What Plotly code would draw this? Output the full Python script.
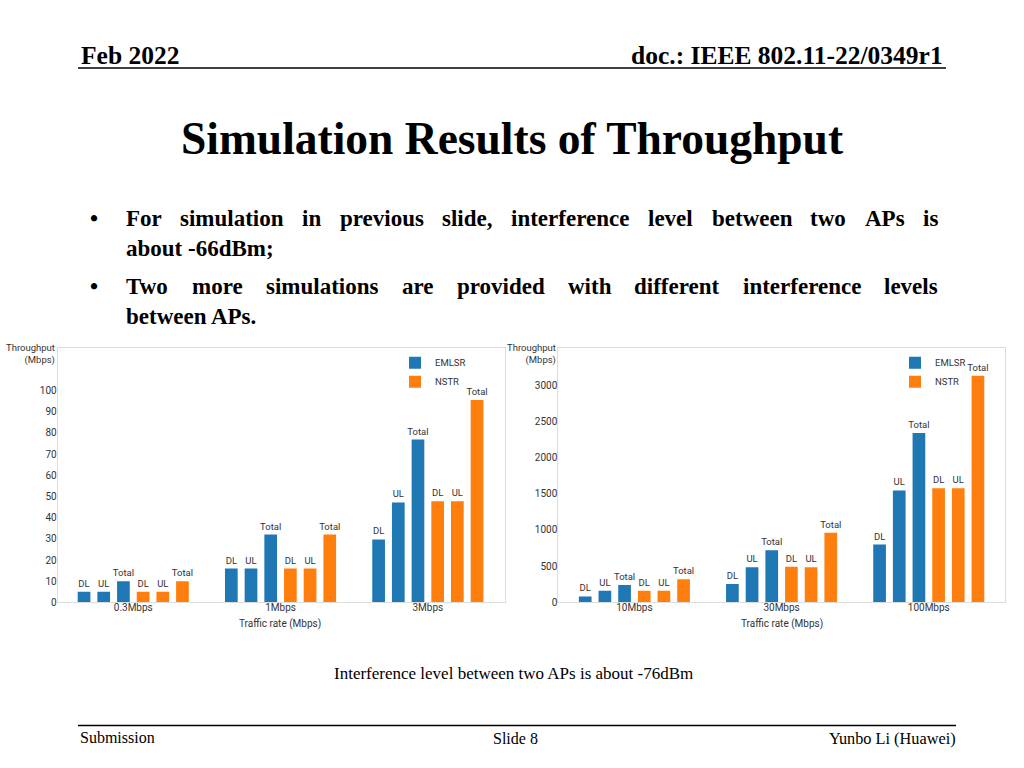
import plotly.graph_objects as go

W, H = 1024, 768
HE = 761.5  # effective rendered height used for vertical placement

# ---------------- data ----------------
cats_left = ["0.3Mbps", "1Mbps", "3Mbps"]
emlsr_dl_left = [5, 16, 29.7]
emlsr_ul_left = [5, 16, 47.2]
emlsr_total_left = [10, 32, 76.9]
nstr_dl_left = [5, 16, 47.8]
nstr_ul_left = [5, 16, 47.8]
nstr_total_left = [10, 32, 95.6]

cats_right = ["10Mbps", "30Mbps", "100Mbps"]
emlsr_dl_right = [83, 255, 799]
emlsr_ul_right = [162, 485, 1547]
emlsr_total_right = [241, 720, 2340]
nstr_dl_right = [160, 494, 1575]
nstr_ul_right = [160, 485, 1575]
nstr_total_right = [318, 961, 3130]

left_yticks = [0, 10, 20, 30, 40, 50, 60, 70, 80, 90, 100]
right_yticks = [0, 500, 1000, 1500, 2000, 2500, 3000]
bar_labels = ["DL", "UL", "Total"]
series_names = ["EMLSR", "NSTR"]

# ---------------- styles ----------------
BLUE = "#1f77b4"
ORANGE = "#ff7f0e"
SANS = "Roboto, DejaVu Sans, sans-serif"
SERIF = "Liberation Serif, Times New Roman, serif"
TXT = "#333333"
AXC = "#dcdcdc"

# Times New Roman Bold advance widths (per 1000 em) for justified lines
TB = {" ": 250, ",": 250, ".": 250, "-": 333, ";": 333, "A": 722, "P": 611,
      "T": 667, "F": 611,
      "a": 500, "b": 556, "c": 444, "d": 556, "e": 444, "f": 333, "g": 500,
      "h": 556, "i": 278, "j": 333, "k": 556, "l": 278, "m": 833, "n": 556,
      "o": 500, "p": 556, "q": 556, "r": 444, "s": 389, "t": 333, "u": 556,
      "v": 500, "w": 722, "x": 500, "y": 500, "z": 444}


def px(x):
    return x / W


def py(y):
    return 1 - y / HE


fig = go.Figure()


def add_chart(cats, emlsr, nstr, xa, ya, legend):
    groups = [(series_names[0], BLUE, emlsr), (series_names[1], ORANGE, nstr)]
    for name, color, vals in groups:
        for lab, v in zip(bar_labels, vals):
            fig.add_trace(go.Bar(
                x=cats, y=v, name=name, legendgroup=name + legend,
                showlegend=(lab == bar_labels[0]), legend=legend,
                marker=dict(color=color, line=dict(width=0)),
                text=[lab] * len(cats), textposition="outside",
                constraintext="none", cliponaxis=False,
                textfont=dict(family=SANS, size=9.5, color=TXT),
                xaxis=xa, yaxis=ya, hoverinfo="skip",
            ))


add_chart(cats_left,
          [emlsr_dl_left, emlsr_ul_left, emlsr_total_left],
          [nstr_dl_left, nstr_ul_left, nstr_total_left],
          "x", "y", "legend")
add_chart(cats_right,
          [emlsr_dl_right, emlsr_ul_right, emlsr_total_right],
          [nstr_dl_right, nstr_ul_right, nstr_total_right],
          "x2", "y2", "legend2")

ydom = [py(602), py(348)]
xcommon = dict(type="category", showgrid=False, zeroline=False, showline=True,
               linecolor=AXC, linewidth=1, mirror=True, ticks="",
               ticklabelstandoff=-4,
               tickfont=dict(family=SANS, size=10, color=TXT), fixedrange=True)
ycommon = dict(showgrid=False, zeroline=False, showline=True, linecolor=AXC,
               linewidth=1, mirror=True, ticks="", ticklabelstandoff=-2,
               tickfont=dict(family=SANS, size=10, color=TXT), fixedrange=True)

legcommon = dict(font=dict(family=SANS, size=9.5, color=TXT),
                 bgcolor="rgba(0,0,0,0)", xanchor="left", yanchor="top",
                 tracegroupgap=0, itemclick=False, itemdoubleclick=False)

annotations = []


def ann(x, y, text, size, family=SERIF, xanchor="center", yanchor="middle",
        color="#000000", align="left"):
    annotations.append(dict(x=px(x), y=py(y), xref="paper", yref="paper",
                            text=text, showarrow=False, xanchor=xanchor,
                            yanchor=yanchor, align=align,
                            font=dict(family=family, size=size, color=color)))


# header / footer
ann(79, 55, "<b>Feb 2022</b>", 25.5, xanchor="left")
ann(945, 55, "<b>doc.: IEEE 802.11-22/0349r1</b>", 25.5, xanchor="right")
ann(512, 138, "<b>Simulation Results of Throughput</b>", 45.5)
ann(78, 737, "Submission", 16, xanchor="left")
ann(515, 738, "Slide 8", 16)
ann(958, 738, "Yunbo Li (Huawei)", 16.3, xanchor="right")
ann(513, 673, "Interference level between two APs is about -76dBm", 17)

# bullets (justified lines laid out word by word)
BSIZE = 23
X0, X1 = 124, 936
line1 = "For simulation in previous slide, interference level between two APs is"
line2 = "about -66dBm;"
line3 = "Two more simulations are provided with different interference levels"
line4 = "between APs."


def word_w(w):
    return sum(TB.get(c, 500) for c in w) / 1000.0 * BSIZE


def justified(text, yy):
    words = text.split(" ")
    total = sum(word_w(w) for w in words)
    gap = (X1 - X0 - total) / (len(words) - 1)
    xx = X0
    for w in words:
        ann(xx, yy, "<b>%s</b>" % w, BSIZE, xanchor="left")
        xx += word_w(w) + gap


ann(88, 218, "<b>•</b>", BSIZE, xanchor="left")
ann(88, 286, "<b>•</b>", BSIZE, xanchor="left")
justified(line1, 218)
ann(X0, 248, "<b>%s</b>" % line2, BSIZE, xanchor="left")
justified(line3, 286)
ann(X0, 316, "<b>%s</b>" % line4, BSIZE, xanchor="left")

# axis titles for both charts
for axx, cx in [(57, 280), (558, 782)]:
    ann(axx, 354, "Throughput<br>(Mbps)", 9.5, family=SANS, xanchor="right",
        color=TXT, align="right")
    ann(cx, 624, "Traffic rate (Mbps)", 10, family=SANS, color=TXT)

fig.update_layout(
    width=W, height=H, margin=dict(l=0, r=0, t=0, b=0),
    paper_bgcolor="white", plot_bgcolor="white",
    barmode="group", bargap=0.198, bargroupgap=0.355,
    xaxis=dict(domain=[px(57.7), px(505)], range=[-0.513, 2.524],
               anchor="y", **xcommon),
    yaxis=dict(domain=ydom, range=[0, 120], tickvals=left_yticks,
               anchor="x", **ycommon),
    xaxis2=dict(domain=[px(558.3), px(1005)], range=[-0.517, 2.518],
                anchor="y2", **xcommon),
    yaxis2=dict(domain=ydom, range=[0, 3510], tickvals=right_yticks,
                anchor="x2", **ycommon),
    legend=dict(x=px(395), y=py(348), **legcommon),
    legend2=dict(x=px(895), y=py(348), **legcommon),
    annotations=annotations,
    shapes=[
        dict(type="line", xref="paper", yref="paper", x0=px(78), x1=px(946),
             y0=py(68), y1=py(68), line=dict(color="black", width=1.5)),
        dict(type="line", xref="paper", yref="paper", x0=px(78), x1=px(956),
             y0=py(725), y1=py(725), line=dict(color="black", width=1.5)),
    ],
    showlegend=True,
)

fig.write_html("out.html", config={"displayModeBar": False},
               post_script="document.body.style.margin='0px';"
                           "document.body.style.overflow='hidden';")
